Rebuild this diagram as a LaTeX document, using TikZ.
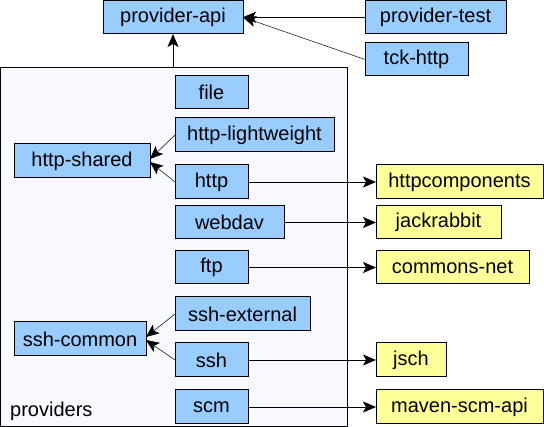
\documentclass[tikz,border=0pt]{standalone}
\usepackage{fontspec}
\setmainfont{Liberation Sans}
\usetikzlibrary{arrows.meta}
\definecolor{boxblue}{HTML}{99CCFF}
\definecolor{boxyellow}{HTML}{FFFF99}
\definecolor{provfill}{HTML}{F8F8FF}
\tikzset{
  bx/.style={draw=black, line width=1pt, rectangle, inner sep=0pt, outer sep=0pt,
    font=\fontsize{20}{24}\selectfont, anchor=center},
  mod/.style={bx, fill=boxblue},
  ext/.style={bx, fill=boxyellow},
  dep/.style={line width=0.9pt, -{Stealth[length=13pt,width=11pt,inset=3pt]}},
  depthin/.style={line width=0.5pt, -{Stealth[length=13pt,width=11pt,inset=3pt]}},
}
% \boxat{style}{name}{x1}{x2}{y1}{y2}{text}
\newcommand{\boxat}[7]{%
  \node[#1, minimum width={(#4-#3)*1pt}, minimum height={(#6-#5)*1pt}]
    (#2) at ({(#3+#4)/2}, {-(#5+#6)/2}) {#7};}
\begin{document}
\begin{tikzpicture}[x=1pt,y=1pt]
\useasboundingbox (0,0) rectangle (544,-427);
% container
\node[draw=black, line width=1pt, fill=provfill, rectangle, inner sep=0pt, outer sep=0pt,
  minimum width=347pt, minimum height=358.5pt] (prov) at (174,-247.25) {};
\node[font=\fontsize{20}{24}\selectfont, anchor=base west, inner sep=0pt] (provlabel) at (10,-417) {providers};
% top
\boxat{mod}{api}{103}{243}{0.5}{34}{provider-api}
\boxat{mod}{ptest}{365}{506}{0.5}{34}{provider-test}
\boxat{mod}{tck}{365}{468}{43}{76}{tck-http}
% providers
\boxat{mod}{file}{175}{248}{76}{109}{file}
\boxat{mod}{hlw}{175}{334}{118}{152}{http-lightweight}
\boxat{mod}{hshared}{14}{150}{144}{178}{http-shared}
\boxat{mod}{http}{175}{248}{165}{199}{http}
\boxat{mod}{webdav}{175}{284}{206}{239}{webdav}
\boxat{mod}{ftp}{175}{248}{251}{284}{ftp}
\boxat{mod}{sshext}{175}{310}{297}{331}{ssh-external}
\boxat{mod}{sshcommon}{14}{146}{322}{356}{ssh-common}
\boxat{mod}{ssh}{175}{248}{343}{377}{ssh}
\boxat{mod}{scm}{175}{248}{390}{424}{scm}
% externals
\boxat{ext}{hc}{376}{543}{165}{199}{httpcomponents}
\boxat{ext}{jr}{376}{501}{206}{239}{jackrabbit}
\boxat{ext}{cn}{376}{529}{251}{284}{commons-net}
\boxat{ext}{jsch}{376}{446}{343}{377}{jsch}
\boxat{ext}{msa}{376}{543}{390}{424}{maven-scm-api}
% edges
\draw[dep] (ptest.west) -- (api.east);
\draw[depthin] (tck.west) -- (api.east);
\draw[dep] (prov.north -| api.south) -- (api.south);
\draw[depthin] (hlw.west) -- ([yshift=2pt]hshared.east);
\draw[depthin] (http.west) -- ([yshift=-1pt]hshared.east);
\draw[depthin] (sshext.west) -- ([yshift=2pt]sshcommon.east);
\draw[depthin] (ssh.west) -- ([yshift=-1pt]sshcommon.east);
\draw[dep] (http.east) -- (hc.west);
\draw[dep] (webdav.east) -- (jr.west);
\draw[dep] (ftp.east) -- (cn.west);
\draw[dep] (ssh.east) -- (jsch.west);
\draw[dep] (scm.east) -- (msa.west);
\end{tikzpicture}
\end{document}
